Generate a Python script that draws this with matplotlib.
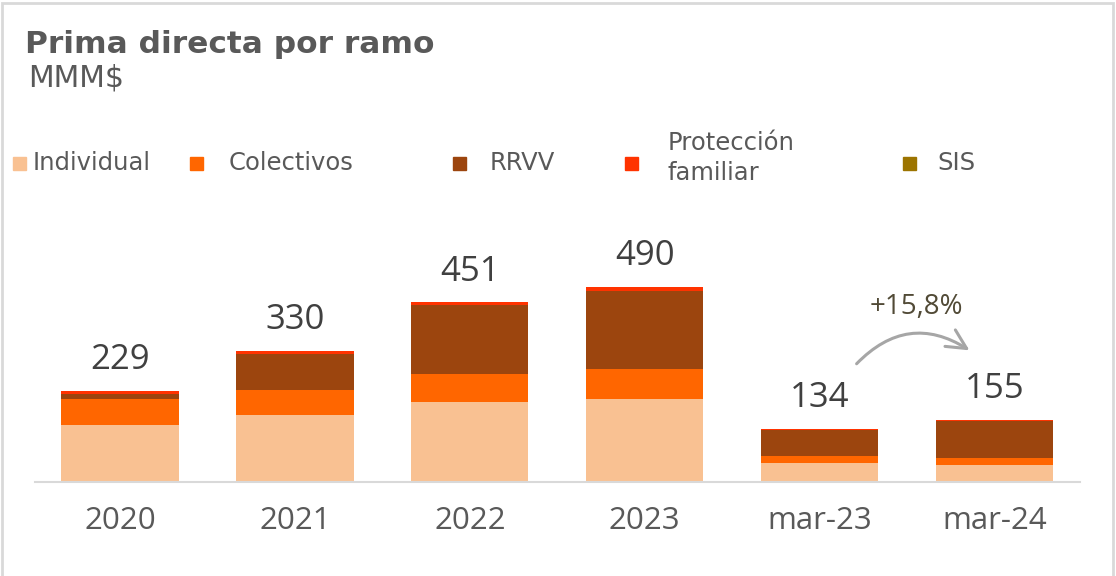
import matplotlib.pyplot as plt
import numpy as np
from matplotlib.patches import Rectangle, FancyArrowPatch

categories = ['2020', '2021', '2022', '2023', 'mar-23', 'mar-24']
individual = [142, 168, 202, 208, 47, 42]
colectivos = [66, 63, 69, 75, 18, 19]
rrvv = [14, 90, 173, 197, 65, 91]
proteccion = [7, 9, 7, 10, 4, 3]
sis = [0, 0, 0, 0, 0, 0]
totals = [229, 330, 451, 490, 134, 155]
growth_label = '+15,8%'

series_names = ['Individual', 'Colectivos', 'RRVV', 'Protección\nfamiliar', 'SIS']
series_colors = ['#F9C192', '#FF6600', '#9C450E', '#FF3300', '#9C7400']

fig = plt.figure(figsize=(11.16, 5.76), dpi=100)
ax = fig.add_axes([0.0314, 0.1632, 0.936, 0.4146])

x = np.arange(len(categories))
bottom = np.zeros(len(categories))
for vals, color in zip([individual, colectivos, rrvv, proteccion, sis], series_colors):
    ax.bar(x, vals, width=0.67, bottom=bottom, color=color, linewidth=0)
    bottom += np.array(vals)

for xi, t in zip(x, totals):
    ax.annotate(str(t), (xi, t), xytext=(0, 15.8), textcoords='offset points',
                ha='center', va='baseline', fontsize=25, color='#404040', family='Open Sans')

ax.set_xlim(-0.486, 5.486)
ax.set_ylim(0, 600)
ax.set_xticks(x)
ax.set_xticklabels(categories, fontsize=22.5, color='#595959', family='Open Sans')
ax.tick_params(axis='x', length=0, pad=17)
ax.set_yticks([])
for s in ['top', 'right', 'left']:
    ax.spines[s].set_visible(False)
ax.spines['bottom'].set_color('#D9D9D9')
ax.spines['bottom'].set_linewidth(1.5)

# growth arrow between mar-23 and mar-24
arrow = FancyArrowPatch((x[4] + 0.2, totals[4] + 158), (x[5] - 0.13, totals[5] + 172),
                        connectionstyle='arc3,rad=-0.42', arrowstyle='->,head_length=14,head_width=7',
                        color='#A6A6A6', linewidth=2.2)
ax.add_patch(arrow)
ax.text((x[4] + x[5]) / 2 + 0.05, totals[5] + 285, growth_label, ha='center', va='center',
        fontsize=20, color='#514A36', family='Open Sans')

# title
fig.text(0.022, 0.908, 'Prima directa por ramo', fontsize=22.5, fontweight='bold',
         color='#595959', family='DejaVu Sans', va='baseline')
fig.text(0.025, 0.849, 'MMM$', fontsize=21.5, color='#595959', family='DejaVu Sans', va='baseline')

# legend
leg_sq_x = [13, 190, 453, 625, 903]
leg_txt_x = [33, 229, 490, 668, 937]
for name, color, sx, tx in zip(series_names, series_colors, leg_sq_x, leg_txt_x):
    fig.patches.append(Rectangle((sx / 1116, (576 - 170) / 576), 13 / 1116, 13 / 576,
                                 transform=fig.transFigure, color=color, figure=fig))
    fig.text(tx / 1116, (576 - 163) / 576 if '\n' not in name else (576 - 158) / 576, name,
             fontsize=17.5, color='#595959', family='DejaVu Sans', va='center', linespacing=1.3)

# outer frame
fig.patches.append(Rectangle((0.002, -0.01), 0.995, 1.005, transform=fig.transFigure,
                             fill=False, edgecolor='#D9D9D9', linewidth=2, figure=fig))

plt.savefig('out.png', dpi=100)
